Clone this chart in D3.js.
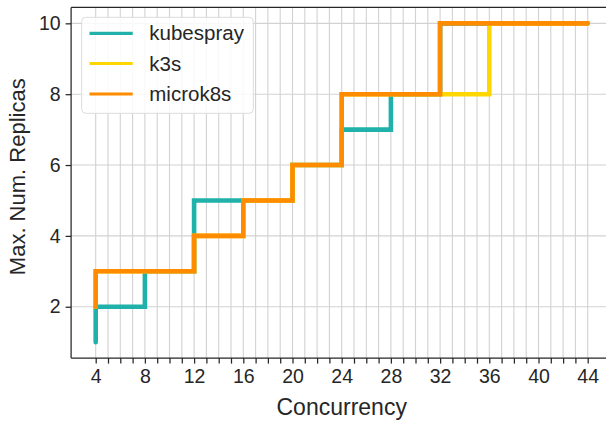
<!DOCTYPE html>
<html>
<head>
<meta charset="utf-8">
<script src="https://cdn.jsdelivr.net/npm/d3@7"></script>
<style>
  html, body { margin: 0; padding: 0; background: #fff; }
  svg { display: block; font-family: "Liberation Sans", Arial, sans-serif; }
</style>
</head>
<body>
<svg id="chart" width="606" height="422"></svg>
<script>
// Concurrency levels tested
const concurrency = [4, 8, 12, 16, 20, 24, 28, 32, 36, 40, 44];
// Maximum number of replicas reached per distribution
const kubespray = [1, 2, 3, 5, 5, 6, 7, 8, 10, 10, 10];
const k3s       = [2, 3, 3, 4, 5, 6, 8, 8, 8, 10, 10];
const microk8s  = [2, 3, 3, 4, 5, 6, 8, 8, 10, 10, 10];

const seriesNames = ["kubespray", "k3s", "microk8s"];
const seriesColors = ["#20b2aa", "#ffd700", "#ff8c00"];
const seriesValues = [kubespray, k3s, microk8s];

const xTickLabels = [4, 8, 12, 16, 20, 24, 28, 32, 36, 40, 44];
const yTickLabels = [2, 4, 6, 8, 10];

const svg = d3.select("#chart");
const ink = "#262626";

const x = d3.scaleLinear().domain([2, 46]).range([71.1, 612.3]);
const y = d3.scaleLinear().domain([0.55, 10.45]).range([358.1, 7.4]);

const [xl, xr] = x.range();
const [yb, yt] = y.range();

// every integer concurrency between the first and last value gets a grid line and tick
const minorTicks = d3.range(concurrency[0], concurrency[concurrency.length - 1] + 1);

// grid
const grid = svg.append("g").attr("stroke", "#d2d2d2").attr("stroke-width", 1.1);
grid.selectAll("line.vx").data(minorTicks).join("line")
  .attr("x1", d => x(d)).attr("x2", d => x(d))
  .attr("y1", yb).attr("y2", yt);
grid.selectAll("line.hy").data(yTickLabels).join("line")
  .attr("x1", xl).attr("x2", xr)
  .attr("y1", d => y(d)).attr("y2", d => y(d));

// step lines
const line = d3.line()
  .x(d => x(d[0]))
  .y(d => y(d[1]))
  .curve(d3.curveStepBefore);

seriesValues.forEach((vals, i) => {
  svg.append("path")
    .datum(concurrency.map((c, j) => [c, vals[j]]))
    .attr("d", line)
    .attr("fill", "none")
    .attr("stroke", seriesColors[i])
    .attr("stroke-width", 4.6)
    .attr("stroke-linecap", "round")
    .attr("stroke-linejoin", "miter");
});

// x axis
const xAxis = d3.axisBottom(x)
  .tickValues(minorTicks)
  .tickSize(5.5)
  .tickPadding(6)
  .tickFormat(d => xTickLabels.includes(d) ? d : "");
const gx = svg.append("g").attr("transform", `translate(0,${yb})`).call(xAxis);
gx.select(".domain").remove();
gx.selectAll(".tick line").attr("stroke", ink).attr("stroke-width", 1.25);
gx.selectAll(".tick text").attr("fill", ink).attr("font-size", 19.5)
  .attr("font-family", "Liberation Sans, Arial, sans-serif");

// y axis
const yAxis = d3.axisLeft(y)
  .tickValues(yTickLabels)
  .tickSize(5.5)
  .tickPadding(5)
  .tickFormat(d3.format("d"));
const gy = svg.append("g").attr("transform", `translate(${xl},0)`).call(yAxis);
gy.select(".domain").remove();
gy.selectAll(".tick line").attr("stroke", ink).attr("stroke-width", 1.25);
gy.selectAll(".tick text").attr("fill", ink).attr("font-size", 19.5)
  .attr("font-family", "Liberation Sans, Arial, sans-serif");

// spines
const spines = svg.append("g").attr("stroke", ink).attr("stroke-width", 1.25).attr("fill", "none");
spines.append("line").attr("x1", xl).attr("x2", xl).attr("y1", yt).attr("y2", yb);
spines.append("line").attr("x1", xl).attr("x2", xr).attr("y1", yb).attr("y2", yb);
spines.append("line").attr("x1", xl).attr("x2", xr).attr("y1", yt).attr("y2", yt);
spines.append("line").attr("x1", xr).attr("x2", xr).attr("y1", yt).attr("y2", yb);

// axis titles
svg.append("text")
  .attr("x", (xl + xr) / 2).attr("y", 415)
  .attr("text-anchor", "middle")
  .attr("fill", ink).attr("font-size", 23)
  .text("Concurrency");

svg.append("text")
  .attr("transform", `translate(25,${(yt + yb) / 2 - 6}) rotate(-90)`)
  .attr("text-anchor", "middle")
  .attr("fill", ink).attr("font-size", 22)
  .text("Max. Num. Replicas");

// legend
const legend = svg.append("g");
legend.append("rect")
  .attr("x", 81.7).attr("y", 17.3)
  .attr("width", 171.6).attr("height", 96)
  .attr("rx", 4).attr("ry", 4)
  .attr("fill", "#fff").attr("fill-opacity", 0.85)
  .attr("stroke", "#dcdcdc").attr("stroke-width", 1);

const rowY = [33.3, 63.5, 94];
seriesNames.forEach((name, i) => {
  legend.append("line")
    .attr("x1", 89.5).attr("x2", 132.7)
    .attr("y1", rowY[i]).attr("y2", rowY[i])
    .attr("stroke", seriesColors[i]).attr("stroke-width", 3.2);
  legend.append("text")
    .attr("x", 149.3).attr("y", rowY[i])
    .attr("dy", "0.35em")
    .attr("fill", ink).attr("font-size", 20.5)
    .text(name);
});
</script>
</body>
</html>
